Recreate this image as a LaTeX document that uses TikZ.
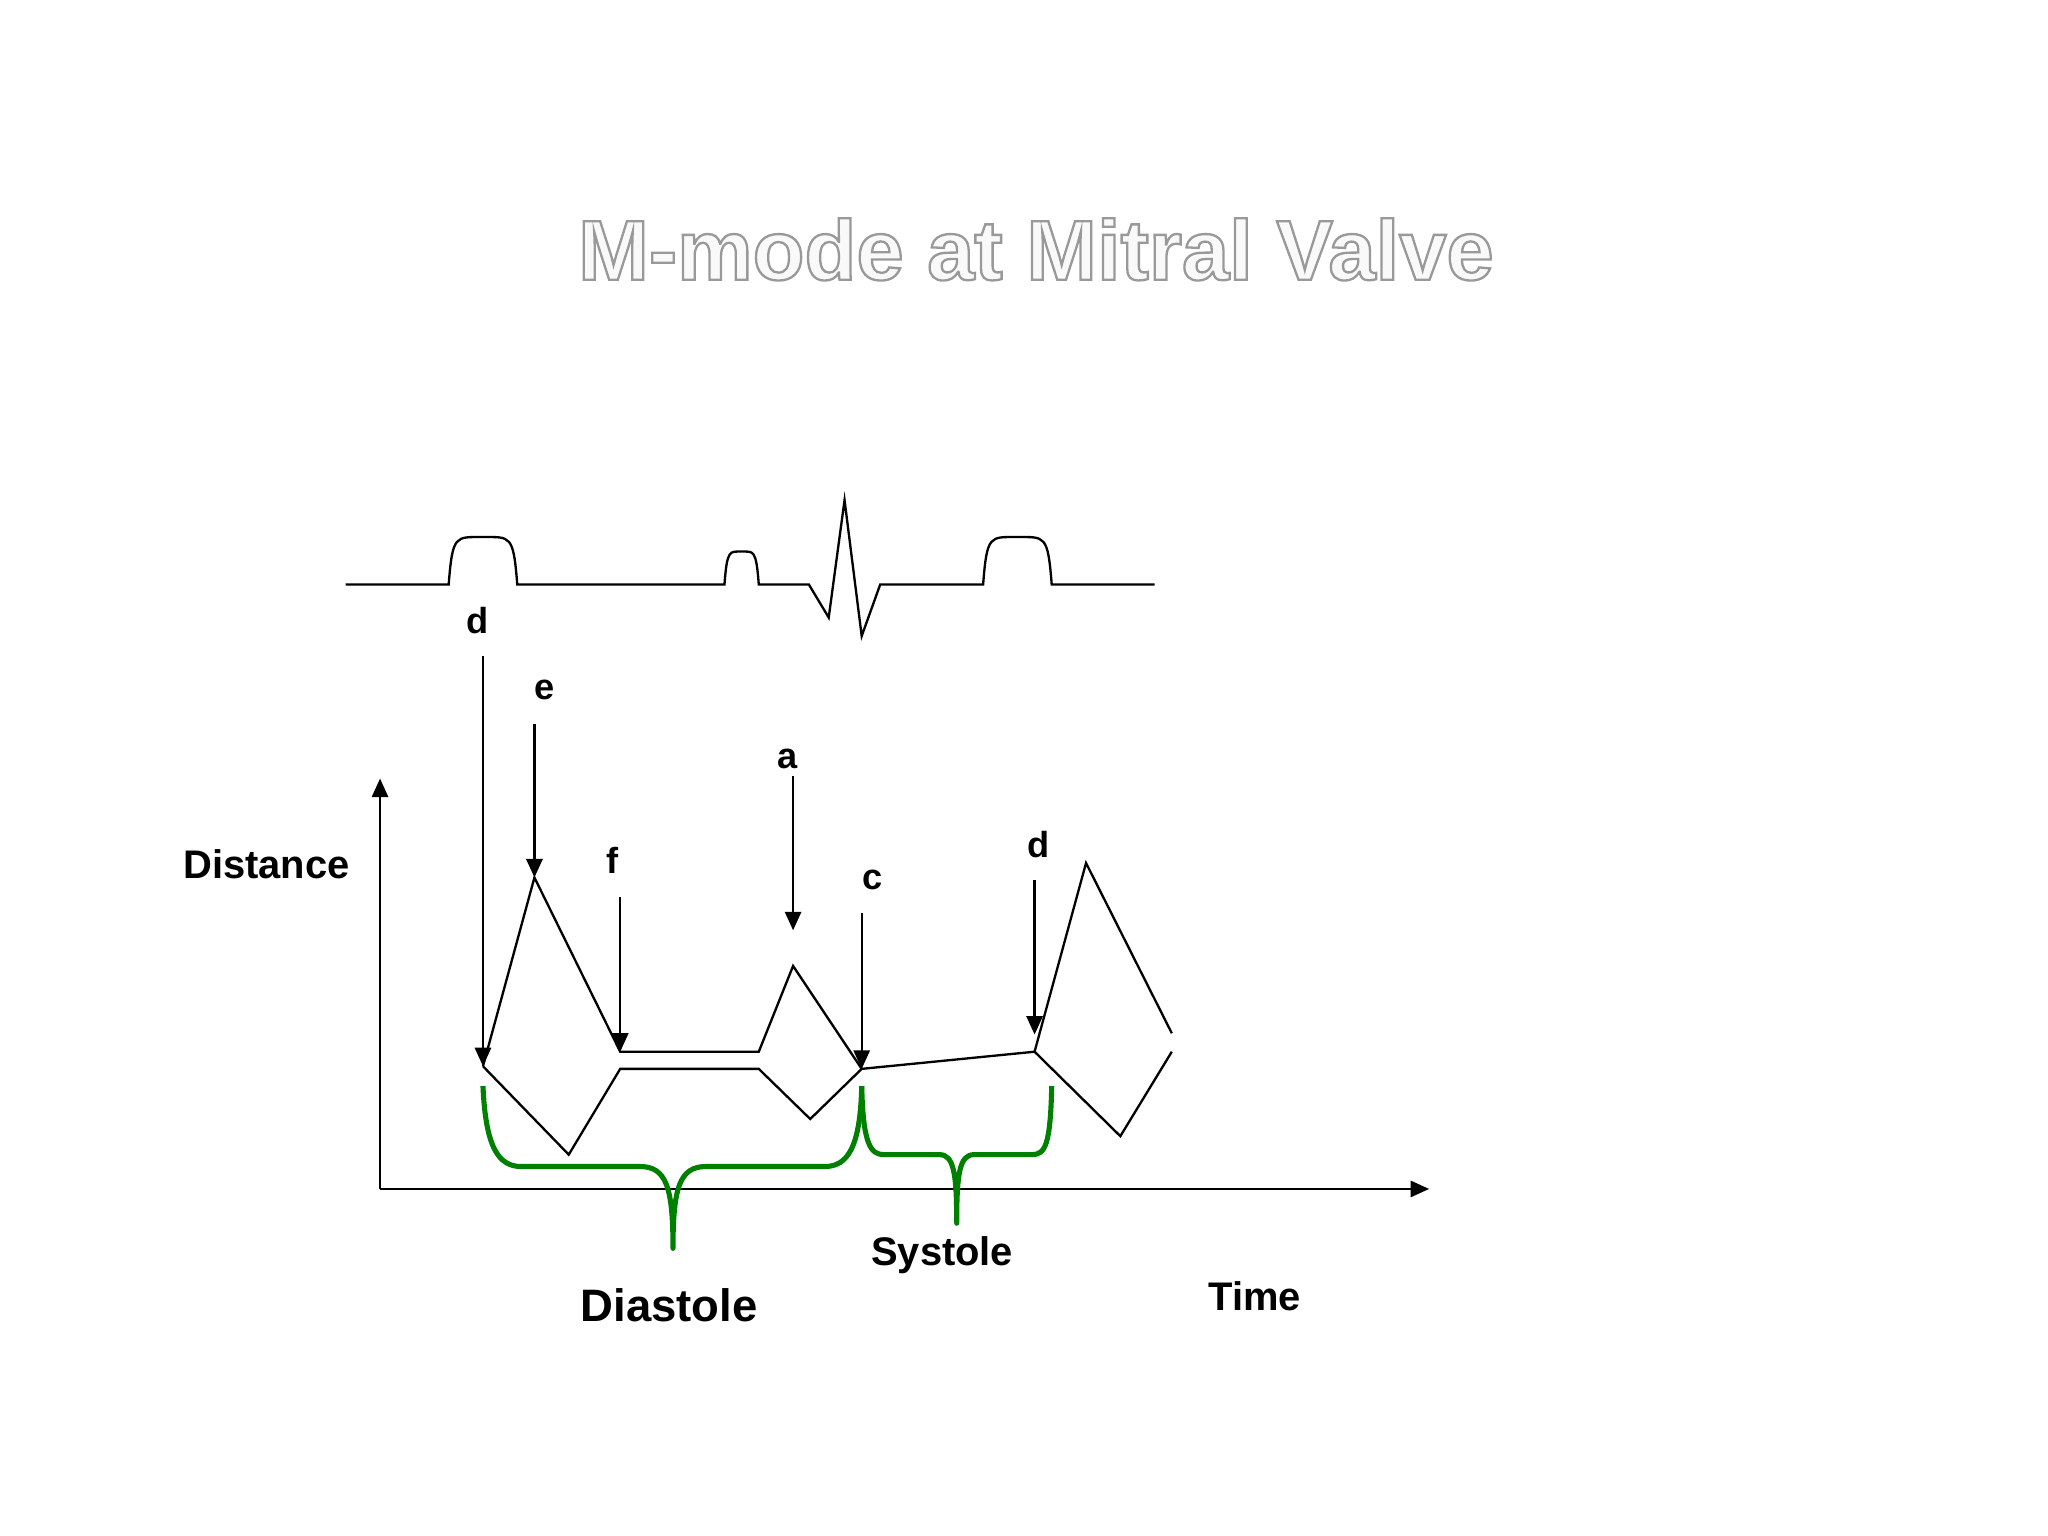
\documentclass[tikz,border=0pt]{standalone}
\usepackage{fontspec}
\setmainfont{Liberation Sans}
\usetikzlibrary{arrows.meta}
\begin{document}
\begin{tikzpicture}[x=0.01cm,y=-0.01cm,
  trace/.style={line width=0.5pt,line join=miter},
  lab/.style={font=\bfseries\fontsize{7.8}{9}\selectfont},
  big/.style={font=\bfseries\fontsize{8.6}{10}\selectfont},
  arr/.style={line width=0.5pt,-{Triangle[length=4pt,width=3.5pt]}},
  brace/.style={draw=green!50!black,line width=1.1pt,line join=round}]
\useasboundingbox (0,0) rectangle (1552,1164);
\node (title) at (785,189) {\fontsize{18.3}{21}\bfseries\selectfont\color{gray!5}\special{pdf:literal 0.6 G 2 Tr 0.5 w}M-mode at Mitral Valve\special{pdf:literal 0 Tr}};
% ECG
\draw[trace] (262,443) -- (340,443) .. controls (343,405) and (345,407) .. (366,407) .. controls (387,407) and (389,405) .. (392,443) -- (549,443) .. controls (551,416) and (553,418) .. (562,418) .. controls (571,418) and (573,416) .. (575,443) -- (613,443) -- (628,468) -- (640,379) -- (653,482) -- (667,443) -- (745,443) .. controls (748,405) and (750,407) .. (771,407) .. controls (792,407) and (794,405) .. (797,443) -- (875,443);
% axes
\coordinate (O) at (288,901);
\coordinate (Ytop) at (288,590);
\coordinate (Xend) at (1083,901);
\draw[arr] (O) -- (Ytop);
\draw[arr] (O) -- (Xend);
\node[big] (dist) at (202,655) {Distance};
\node[big] (time) at (951,982) {Time};
\node[font=\bfseries\fontsize{9.8}{12}\selectfont] (dia) at (507,989) {Diastole};
\node[big] (sys) at (714,951) {Systole};
% mitral traces
\coordinate (D) at (366,808);
\coordinate (E) at (405,665);
\coordinate (F) at (470,797);
\coordinate (A) at (601,732);
\coordinate (C) at (653,810);
\coordinate (D2) at (784,797);
\draw[trace] (D) -- (E) -- (F) -- (575,797) -- (A) -- (C) -- (D2) -- (823,654) -- (888,783);
\draw[trace] (D) -- (431,875) -- (470,810) -- (575,810) -- (614,848) -- (C);
\draw[trace] (D2) -- (849,861) -- (888,797);
% labels and arrows
\node[lab] (ld) at (362,470) {d};
\node[lab] (le) at (413,523) {e};
\node[lab] (lf) at (464,652) {f};
\node[lab] (la) at (597,575) {a};
\node[lab] (lc) at (661,667) {c};
\node[lab] (ld2) at (787,640) {d};
\draw[arr] (366,497) -- (D);
\draw[arr] (405,549) -- (E);
\draw[arr] (470,680) -- (F);
\draw[arr] (601,588) -- (601,705);
\draw[arr] (653,692) -- (C);
\draw[arr] (784,667) -- (784,784);
% braces
\draw[brace] (366,823) .. controls (368,870) and (378,884) .. (395,884) -- (485,884) .. controls (505,884) and (510,900) .. (510,946) .. controls (510,900) and (515,884) .. (535,884) -- (625,884) .. controls (642,884) and (652,870) .. (653,823);
\draw[brace] (653,823) .. controls (654,868) and (660,875) .. (670,875) -- (712,875) .. controls (723,875) and (725,890) .. (725,927) .. controls (725,890) and (727,875) .. (738,875) -- (782,875) .. controls (792,875) and (796,868) .. (797,823);
\end{tikzpicture}
\end{document}
